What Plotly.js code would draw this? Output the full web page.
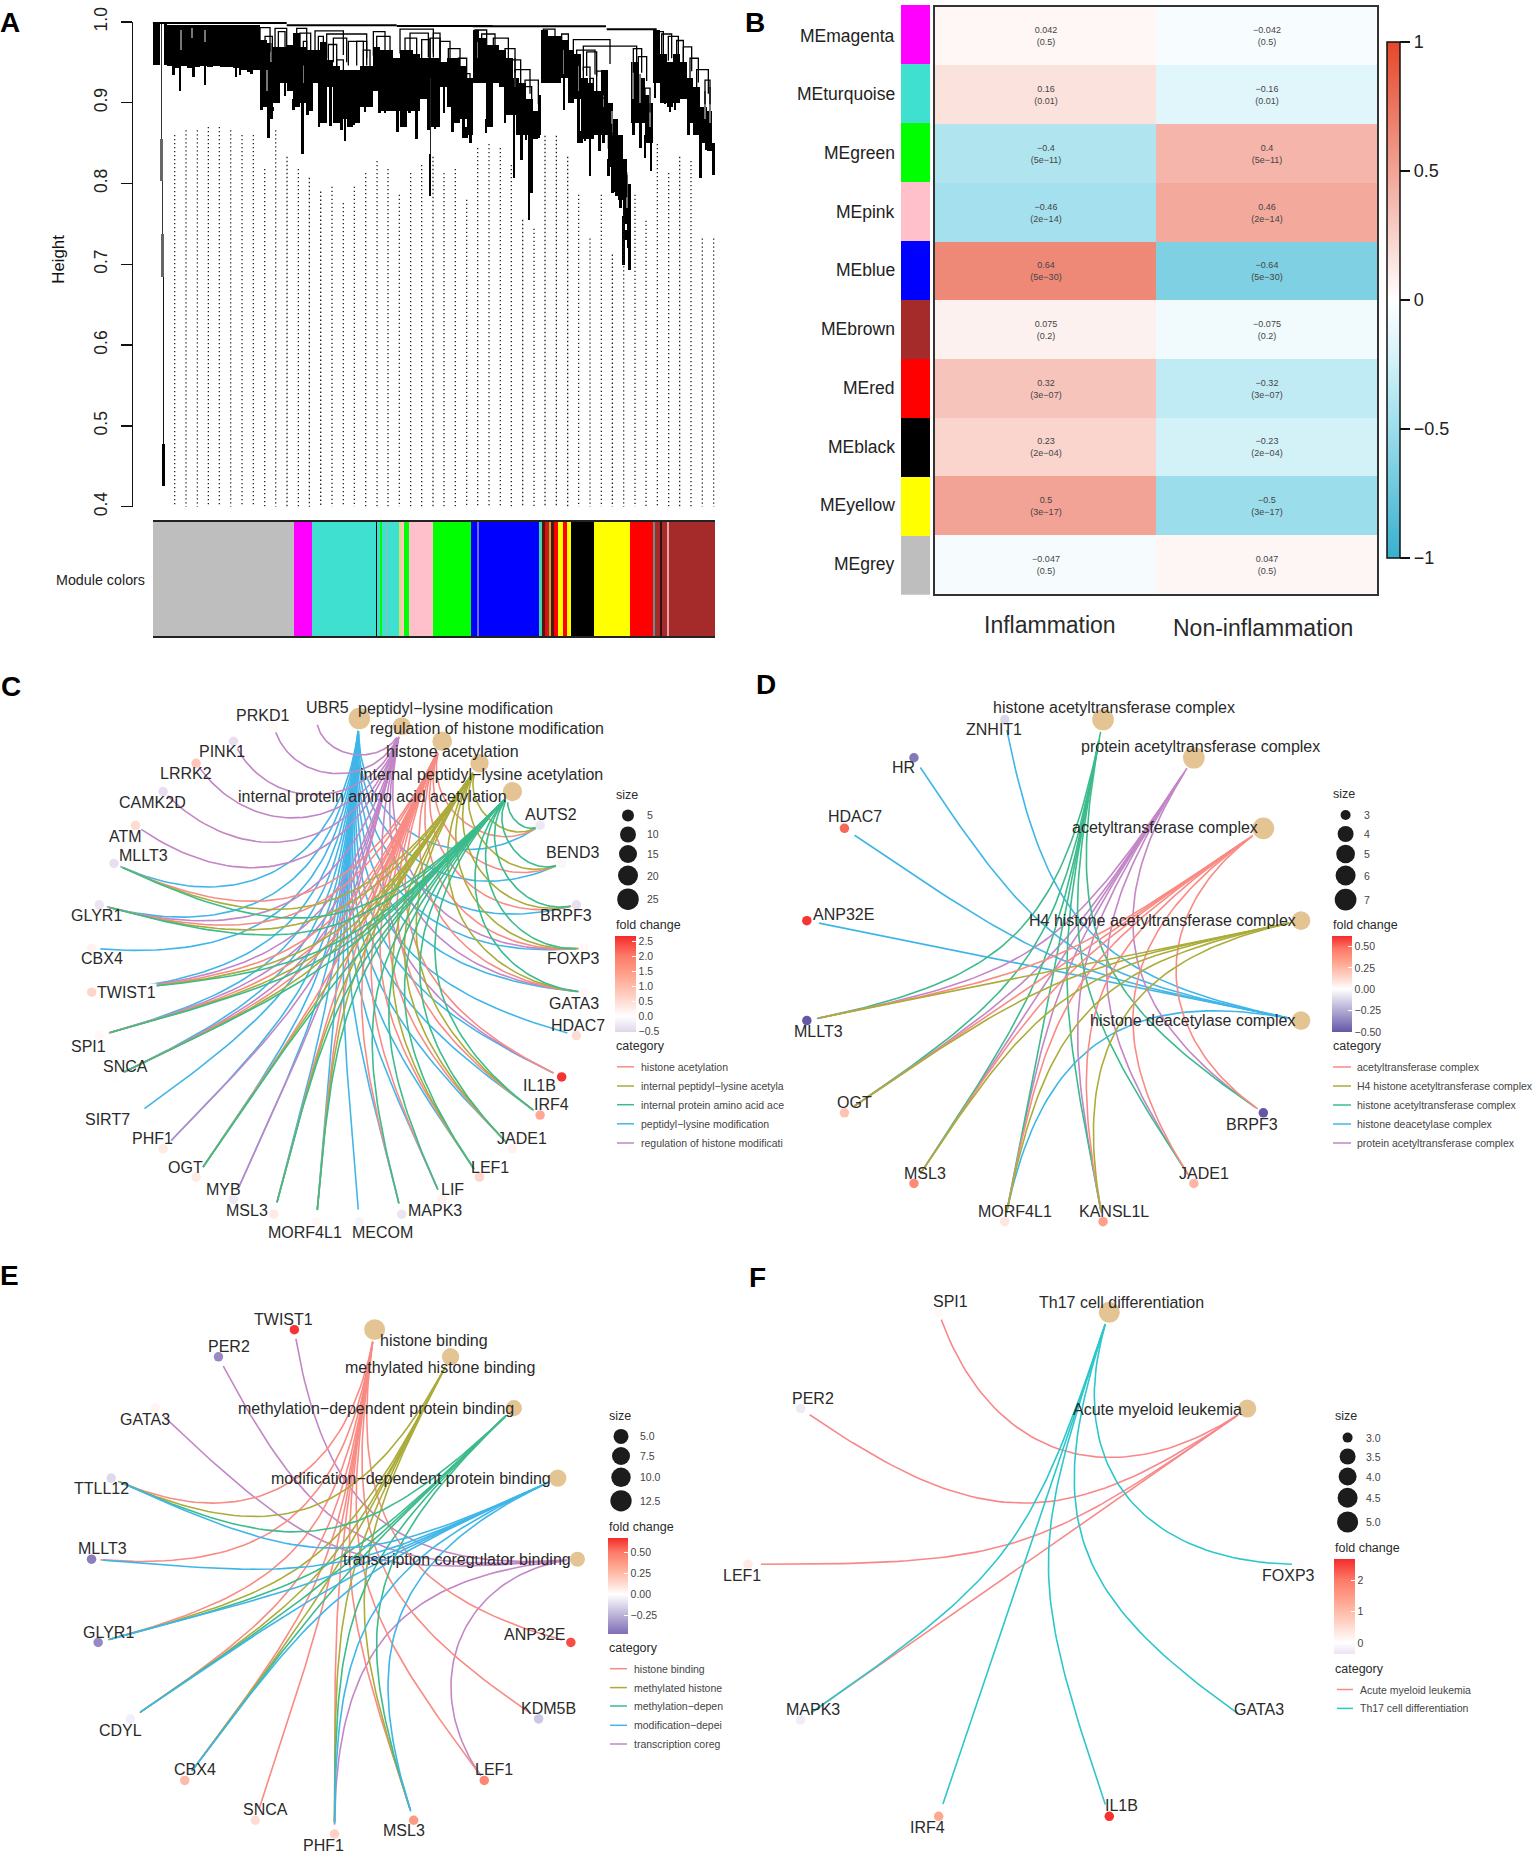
<!DOCTYPE html>
<html><head><meta charset="utf-8">
<script src="https://cdn.plot.ly/plotly-3.0.1.min.js"></script>
<style>html,body{margin:0;padding:0;background:#fff}</style></head>
<body><div id="chart" style="width:1534px;height:1854px"></div>
<script>
const W=1534,H=1854,FONT='"Liberation Sans",Arial,sans-serif';

/* ---------- A: dendrogram values (gene rank on x, height on y) ---------- */
const dendroMassRank=[0,34,42,62,82,102,122,142,162,182,202,222,242,262,282,302,322,342,362,382,402,422,442,462,482,502,522,542,562,582,602,622,642,662,682,702,722,742,762,782,802,822,842,862,882,902,922,942,960,980,1000,1020,1040,1060,1080,1100,1120,1140,1155,1165,1185,1205,1225,1245,1265,1285,1305,1325,1345,1365,1380,1395,1410,1422,1436,1456,1476,1490,1502,1522,1542,1562,1582,1602,1622,1642,1662,1677];
const dendroMassTop=[1.0,0.998,0.996,0.996,0.996,0.996,0.996,0.996,0.996,0.996,0.996,0.996,0.996,0.996,0.996,0.996,0.978,0.974,0.969,0.969,0.972,0.986,0.969,0.965,0.965,0.975,0.953,0.945,0.94,0.94,0.94,0.945,0.945,0.969,0.965,0.965,0.955,0.965,0.965,0.96,0.955,0.955,0.955,0.95,0.955,0.955,0.945,0.93,0.99,0.98,0.972,0.972,0.965,0.955,0.93,0.925,0.905,0.89,0.91,0.99,0.982,0.982,0.978,0.965,0.96,0.93,0.925,0.915,0.94,0.90,0.88,0.86,0.83,0.80,0.95,0.93,0.91,0.90,0.99,0.96,0.95,0.96,0.95,0.93,0.92,0.895,0.89,0.85];
const dendroMassBottom=[0.947,0.947,0.945,0.943,0.945,0.943,0.944,0.945,0.944,0.945,0.944,0.944,0.943,0.941,0.938,0.94,0.895,0.88,0.90,0.925,0.915,0.895,0.90,0.89,0.925,0.875,0.92,0.875,0.88,0.87,0.875,0.895,0.895,0.915,0.89,0.89,0.89,0.87,0.89,0.89,0.905,0.87,0.87,0.92,0.895,0.875,0.88,0.86,0.925,0.925,0.87,0.925,0.92,0.885,0.885,0.86,0.86,0.855,0.86,0.925,0.925,0.925,0.93,0.90,0.905,0.855,0.855,0.86,0.86,0.82,0.79,0.78,0.75,0.72,0.875,0.875,0.85,0.85,0.925,0.90,0.895,0.90,0.905,0.875,0.86,0.85,0.84,0.815];
const dendroStemRank=[62,82,122,157,250,262,297,327,347,359,397,422,450,464,499,534,552,567,577,590,602,637,680,697,712,735,752,770,792,827,847,874,900,917,932,942,954,1000,1057,1084,1094,1107,1120,1129,1137,1147,1157,1234,1277,1287,1297,1312,1322,1340,1352,1367,1379,1392,1404,1412,1422,1430,1442,1464,1477,1495,1507,1537,1552,1567,1607,1644,1660,1670,1682];
const dendroStemBottom=[0.934,0.914,0.932,0.922,0.932,0.934,0.936,0.891,0.856,0.895,0.908,0.891,0.837,0.885,0.870,0.871,0.88,0.866,0.852,0.873,0.873,0.889,0.887,0.887,0.891,0.864,0.887,0.887,0.855,0.866,0.868,0.887,0.864,0.875,0.856,0.856,0.85,0.862,0.875,0.807,0.860,0.829,0.854,0.755,0.788,0.868,0.856,0.891,0.85,0.85,0.852,0.809,0.868,0.84,0.85,0.809,0.788,0.784,0.77,0.699,0.742,0.693,0.86,0.844,0.832,0.815,0.906,0.899,0.889,0.891,0.86,0.807,0.842,0.854,0.81];
const tallStemRank=[26,26,29,30,33,33,832,832];
const tallStemTop=[0.997,0.855,0.803,0.7375,0.684,0.478,0.93,0.837];
const tallStemBottom=[0.855,0.803,0.7375,0.684,0.478,0.4255,0.837,0.784];
const streakRank=[355,342,452,84,157,117,1440,1462,1492,1087,1277,1352,1657,1672,1377,1422,974,1232];
const streakTop=[0.974,0.94,0.965,0.99,0.99,0.993,0.95,0.935,0.90,0.955,0.945,0.925,0.915,0.92,0.89,0.81,0.975,0.965];
const streakBottom=[0.95,0.915,0.925,0.965,0.975,0.98,0.905,0.90,0.87,0.92,0.915,0.895,0.88,0.875,0.86,0.77,0.955,0.935];
const branchFrom=[322,337,367,377,432,442,452,487,497,522,542,587,527,552,612,632,662,672,742,757,772,807,842,832,862,887,917,932,967,987,1022,1057,1077,1087,1117,1112,1172,1227,1262,1292,1272,1302,1292,1312,1332,1337,1367,1377,1387,1407,1442,1457,1477,1507,1527,1547,1572,1592,1612,1632,1657];
const branchTo=[352,359,402,397,462,474,462,572,512,642,582,642,552,572,632,652,697,712,842,792,827,832,862,862,892,922,942,952,1002,1027,1067,1087,1104,1132,1157,1137,1207,1247,1372,1452,1327,1332,1312,1322,1352,1362,1377,1387,1402,1422,1467,1482,1492,1532,1557,1577,1592,1617,1637,1667,1672];
const branchHeight=[0.993,0.982,0.992,0.988,0.992,0.986,0.976,0.989,0.982,0.985,0.980,0.976,0.972,0.953,0.976,0.965,0.988,0.982,0.991,0.980,0.986,0.978,0.986,0.980,0.976,0.967,0.955,0.936,0.990,0.985,0.980,0.967,0.953,0.941,0.928,0.920,0.991,0.985,0.978,0.970,0.965,0.963,0.944,0.930,0.939,0.906,0.873,0.862,0.846,0.813,0.967,0.957,0.918,0.988,0.985,0.982,0.977,0.969,0.955,0.941,0.928];
const trunkFrom=[0,402,732,960,1362];
const trunkTo=[402,732,1020,1360,1512];
const trunkHeight=[0.9985,0.996,0.995,0.9945,0.991];
const guideRank=[66,100,134,167,200,234,268,302,336,369,403,437,470,504,538,572,605,639,673,706,740,774,807,841,874,908,942,975,1009,1043,1076,1110,1144,1177,1211,1245,1278,1312,1346,1379,1413,1447,1480,1514,1548,1581,1615,1649,1683];
const guideTop=[0.860,0.866,0.866,0.870,0.870,0.866,0.860,0.860,0.818,0.866,0.833,0.818,0.807,0.790,0.796,0.776,0.796,0.813,0.828,0.818,0.786,0.813,0.823,0.833,0.813,0.818,0.780,0.844,0.849,0.844,0.823,0.755,0.744,0.859,0.859,0.833,0.786,0.732,0.786,0.712,0.767,0.786,0.754,0.849,0.813,0.833,0.828,0.732,0.732];
const moduleColors=['#BEBEBE','#FF00FF','#40E0D0','#A52A2A','#40E0D0','#000000','#40E0D0','#00FF00','#40E0D0','#9FB8B8','#40E0D0','#C8E860','#FFC0CB','#00FF00','#FFC0CB','#00FF00','#0000FF','#6A6AFF','#0000FF','#40D8A0','#4A1A1A','#FF0000','#A52A2A','#D8A020','#4A1A1A','#FF0000','#FFFF00','#FF0000','#FFFF00','#000000','#FFFF00','#FF0000','#5F9090','#A52A2A','#301010','#A52A2A','#E8A0A0','#A52A2A'];
const moduleGeneCount=[425,54,91,2,98,4,8,6,12,4,36,4,10,16,72,113,19,6,179,8,10,5,7,5,11,10,17,12,10,70,108,68,7,15,5,15,6,139];

/* ---------- B: module-trait correlation ---------- */
const moduleNames=['MEmagenta','MEturquoise','MEgreen','MEpink','MEblue','MEbrown','MEred','MEblack','MEyellow','MEgrey'];
const moduleSwatch=['#FF00FF','#40E0D0','#00FF00','#FFC0CB','#0000FF','#A52A2A','#FF0000','#000000','#FFFF00','#BEBEBE'];
const traits=['Inflammation','Non-inflammation'];
const corInflammation=[0.042,0.16,-0.4,-0.46,0.64,0.075,0.32,0.23,0.5,-0.047];
const corNonInflammation=[-0.042,-0.16,0.4,0.46,-0.64,-0.075,-0.32,-0.23,-0.5,0.047];
const corPValues=['0.5','0.01','5e−11','2e−14','5e−30','0.2','3e−07','2e−04','3e−17','0.5'];

/* ---------- C ---------- */
const cHubs=['peptidyl−lysine modification','regulation of histone modification','histone acetylation','internal peptidyl−lysine acetylation','internal protein amino acid acetylation'];
const cHubSize=[25,15,19,16,18];
const cGenes=['AUTS2','BEND3','BRPF3','FOXP3','GATA3','HDAC7','IL1B','IRF4','JADE1','LEF1','LIF','MAPK3','MECOM','MORF4L1','MSL3','MYB','OGT','PHF1','SIRT7','SNCA','SPI1','TWIST1','CBX4','GLYR1','MLLT3','ATM','CAMK2D','LRRK2','PINK1','PRKD1','UBR5'];
const cFold=[-0.3,-0.1,-0.4,0.1,0.1,0.5,2.6,1.3,0.2,0.6,0.2,-0.35,-0.15,0.1,0.3,-0.3,0.3,0.3,0,0.05,0.1,0.6,0.2,-0.35,-0.4,0.5,-0.4,0.8,-0.4,0.1,0.05];
const cPeptidyl=['AUTS2','BEND3','BRPF3','FOXP3','GATA3','HDAC7','IL1B','IRF4','JADE1','LEF1','LIF','MAPK3','MECOM','MORF4L1','MSL3','MYB','OGT','PHF1','SIRT7','SNCA','SPI1','TWIST1','CBX4','GLYR1','MLLT3'];
const cRegulation=['FOXP3','GATA3','IL1B','MYB','PHF1','SNCA','SPI1','TWIST1','GLYR1','ATM','CAMK2D','LRRK2','PINK1','PRKD1','UBR5'];
const cAcetylation=['AUTS2','BEND3','BRPF3','FOXP3','GATA3','IL1B','IRF4','JADE1','LEF1','LIF','MAPK3','MORF4L1','MSL3','OGT','SNCA','SPI1','TWIST1','GLYR1','MLLT3'];
const cInternalPeptidyl=['AUTS2','BEND3','BRPF3','FOXP3','GATA3','IRF4','JADE1','LEF1','MORF4L1','MSL3','OGT','SNCA','SPI1','TWIST1','GLYR1','MLLT3'];
const cInternalProtein=['AUTS2','BEND3','BRPF3','FOXP3','GATA3','IRF4','JADE1','LEF1','LIF','MAPK3','MORF4L1','MSL3','OGT','SNCA','SPI1','TWIST1','GLYR1','MLLT3'];
const cCategoryLabels=['histone acetylation','internal peptidyl−lysine acetyla','internal protein amino acid ace','peptidyl−lysine modification','regulation of histone modificati'];
const cSizeValues=[5,10,15,20,25];
const cFoldTicks=[-0.5,0,0.5,1,1.5,2,2.5];

/* ---------- D ---------- */
const dHubs=['histone acetyltransferase complex','protein acetyltransferase complex','acetyltransferase complex','H4 histone acetyltransferase complex','histone deacetylase complex'];
const dHubSize=[7,7,7,5,5];
const dGenes=['BRPF3','JADE1','KANSL1L','MORF4L1','MSL3','OGT','MLLT3','ANP32E','HDAC7','HR','ZNHIT1'];
const dFold=[-0.5,0.25,0.33,0.08,0.4,0.2,-0.5,0.6,0.5,-0.4,-0.12];
const dDeacetylase=['MORF4L1','ZNHIT1','HR','HDAC7','ANP32E'];
const dProtein=['BRPF3','JADE1','KANSL1L','MORF4L1','MSL3','OGT','MLLT3'];
const dHistoneAcetyl=['BRPF3','JADE1','KANSL1L','MORF4L1','MSL3','OGT','MLLT3'];
const dAcetyl=['BRPF3','JADE1','KANSL1L','MORF4L1','MSL3','OGT','MLLT3'];
const dH4=['KANSL1L','MORF4L1','MSL3','OGT','MLLT3'];
const dCategoryLabels=['acetyltransferase complex','H4 histone acetyltransferase complex','histone acetyltransferase complex','histone deacetylase complex','protein acetyltransferase complex'];
const dSizeValues=[3,4,5,6,7];
const dFoldTicks=[-0.5,-0.25,0,0.25,0.5];

/* ---------- E ---------- */
const eHubs=['histone binding','methylated histone binding','methylation−dependent protein binding','modification−dependent protein binding','transcription coregulator binding'];
const eHubSize=[12,7,6,7,5];
const eGenes=['ANP32E','KDM5B','LEF1','MSL3','PHF1','SNCA','CBX4','CDYL','GLYR1','MLLT3','TTLL12','GATA3','PER2','TWIST1'];
const eFold=[0.6,-0.18,0.45,0.38,0.17,0.12,0.25,-0.05,-0.38,-0.42,-0.12,0.04,-0.38,0.65];
const eTranscription=['TWIST1','PER2','GATA3','LEF1','PHF1'];
const eHistoneBinding=['TTLL12','MLLT3','GLYR1','CDYL','CBX4','SNCA','PHF1','MSL3','LEF1','KDM5B','ANP32E'];
const eMethylated=['TTLL12','GLYR1','CDYL','CBX4','PHF1','MSL3'];
const eMethylationDep=['TTLL12','GLYR1','CDYL','CBX4','PHF1','MSL3'];
const eModification=['TTLL12','MLLT3','GLYR1','CDYL','CBX4','PHF1','MSL3'];
const eCategoryLabels=['histone binding','methylated histone','methylation−depen','modification−depei','transcription coreg'];
const eSizeValues=[5,7.5,10,12.5];
const eFoldTicks=[-0.25,0,0.25,0.5];

/* ---------- F ---------- */
const fHubs=['Th17 cell differentiation','Acute myeloid leukemia'];
const fHubSize=[5,4];
const fGenes=['FOXP3','GATA3','IL1B','IRF4','MAPK3','LEF1','PER2','SPI1'];
const fFold=[0.05,0,2.6,1.3,-0.25,0.3,-0.3,0.08];
const fLeukemia=['SPI1','PER2','LEF1','MAPK3'];
const fTh17=['FOXP3','GATA3','IL1B','IRF4','MAPK3'];
const fCategoryLabels=['Acute myeloid leukemia','Th17 cell differentiation'];
const fSizeValues=[3,3.5,4,4.5,5];
const fFoldTicks=[0,1,2];

/* ---------- layout tables (page pixels) ---------- */
const RED='#F98B84',OLIVE='#ABAC3A',GREEN='#3CBB8C',BLUE='#40B6E8',PURPLE='#C386C6',F_RED='#F8888A',F_TEAL='#2DC7CB',HUB='#E5C494';
const panelC={ax:5,cx:337.8,cy:970.2,rx:247,ry:252.6,
 lx:[455.4,486.5,452.8,481.6,372.4,551,572.4,566.3,573.5,573.5,577.6,539.8,551.5,522.4,489.8,452.6,435.2,382.7,305.1,247.4,223,185.2,152.6,107.7,125,88.8,126.5,102,96.4,143.9,125,152.6,186.2,222.4,262.8,327],
 ly:[708.2,728.1,751.8,774,796.2,814.6,852.9,915.6,958.9,1003.3,1025.1,1085.6,1104.7,1138.4,1167,1189.3,1210.3,1232.9,1232.9,1210.3,1189.3,1167,1138.4,1119.2,1066.8,1046.5,992.2,958.9,915.6,855.6,836.4,802.7,773.7,751.8,715.9,707.8],
 title:{x:615,size:794.7,fold:924.8,cat:1045.8},
 circX:628,circY:[815.4,834.5,854,875.5,899.2],circPx:[12,16,18,20,21.5],circLab:646,
 bar:{x:615,w:21,top:936.3,bot:1032,min:-0.53,max:2.67,low:'#E0D6EC',lab:641},
 keyX:[617,634],keyLab:640,keyY:[1066.8,1086,1104.7,1123.8,1143],keyCol:[RED,OLIVE,GREEN,BLUE,PURPLE],
 haloLabels:['TWIST1']};
const panelD={ax:6,cx:1053.9,cy:970.6,rx:251.9,ry:256,
 lx:[1114.2,1200.8,1164.6,1162.3,1192.4,1252.4,1203.8,1113.7,1015.4,924.8,854.9,818,843.3,854.9,903.5,993.7],
 ly:[707.8,746.5,827.6,920.2,1020.9,1124.2,1173.2,1211.9,1211.9,1173.2,1102.4,1031.6,914.9,816.9,767.9,729.7],
 title:{x:1332.4,size:794,fold:925,cat:1045.8},
 circX:1345.6,circY:[815,834,854,875.5,899.6],circPx:[10,16,18.7,20,21.7],circLab:1363,
 bar:{x:1332.4,w:20.3,top:936.3,bot:1032,min:-0.5,max:0.617,low:'#6457A6',lab:1357.7},
 keyX:[1333,1351],keyLab:1356,keyY:[1067,1086,1105,1124,1143],keyCol:[RED,OLIVE,GREEN,BLUE,PURPLE],haloLabels:[]};
const panelE={ax:7,cx:334.5,cy:1580.1,rx:243.8,ry:253.9,
 lx:[434,440,376.4,411,457,534.7,548.7,493.5,403.8,323.3,265.6,194.9,120.2,108.1,102.3,101.3,144.9,229.3,283.6],
 ly:[1340.5,1367.9,1408.7,1478.4,1559.3,1634.4,1708.4,1769.6,1830.9,1845.1,1809.7,1769.6,1730,1632.1,1548.9,1488.8,1419.1,1346.3,1319.7],
 title:{x:608.3,size:1416,fold:1527,cat:1648},
 circX:621,circY:[1436.4,1456,1477.3,1500.8],circPx:[15,18,19.4,21.3],circLab:639,
 bar:{x:608,w:20,top:1538,bot:1633.7,min:-0.47,max:0.67,low:'#7E6DB5',lab:634.5},
 keyX:[610,627],keyLab:632.5,keyY:[1668.7,1687.6,1706,1725.3,1744],keyCol:[RED,OLIVE,GREEN,BLUE,PURPLE],haloLabels:[]};
const panelF={ax:8,cx:1024,cy:1564.3,rx:276,ry:265,
 lx:[1121,1157.7,1288.9,1259,1121.3,927.3,813.4,741.6,812.9,950.1],
 ly:[1302,1409.1,1575.1,1709.2,1805.5,1827.4,1709.2,1575.9,1398.3,1301.6],
 title:{x:1334.4,size:1416.4,fold:1548,cat:1668.7},
 circX:1347.6,circY:[1437.6,1456.5,1476.5,1497.7,1522],circPx:[10,16,18,20,21],circLab:1365,
 bar:{x:1334.4,w:20.6,top:1559.3,bot:1654.5,min:-0.365,max:2.66,low:'#ECE3F3',lab:1360},
 keyX:[1337,1353],keyLab:1358.5,keyY:[1689.5,1708.4],keyCol:[F_RED,F_TEAL],haloLabels:[]};

const traces=[],annotations=[],shapes=[];
const layout={width:W,height:H,margin:{l:0,r:0,t:0,b:0,pad:0},paper_bgcolor:'#fff',plot_bgcolor:'rgba(0,0,0,0)',
 showlegend:false,hovermode:false,barmode:'overlay',bargap:0,font:{family:FONT,color:'#222'},annotations,shapes};
const fx=p=>p/W, fy=p=>1-p/H;
function note(text,x,y,size,o={}){annotations.push(Object.assign({text,x:fx(x),y:fy(y),xref:'paper',yref:'paper',showarrow:false,
 xanchor:'center',yanchor:'middle',borderpad:0,font:{family:FONT,size,color:o.color||'#2a2a2a'}},o.extra||{}));}
function hiddenAxis(range,d0,d1){return {domain:[d0,d1],range,visible:false,fixedrange:true};}

/* ----- panel A ----- */
layout.xaxis={domain:[fx(152.7),fx(715)],range:[0,1687],visible:false,fixedrange:true};
layout.yaxis={domain:[fy(506.7),fy(21.9)],range:[0.4,1.0],anchor:'free',position:fx(131.8),showline:true,linecolor:'#111',linewidth:1.5,
 ticks:'outside',ticklen:10.5,tickwidth:1.5,tickcolor:'#111',tickvals:[0.4,0.5,0.6,0.7,0.8,0.9,1.0],ticktext:['0.4','0.5','0.6','0.7','0.8','0.9','1.0'],
 tickangle:-90,tickfont:{family:FONT,size:17.5,color:'#222'},ticklabelstandoff:7,showgrid:false,zeroline:false,fixedrange:true};
const gx=[],gy=[];guideRank.forEach((r,i)=>{gx.push(r,r,null);gy.push(guideTop[i],0.3875,null);});
traces.push({type:'scatter',mode:'lines',x:gx,y:gy,xaxis:'x',yaxis:'y',cliponaxis:false,line:{color:'#222',width:1.3,dash:'1.3px,2.7px'}});
const massW=dendroMassRank.map((r,i)=>Math.min((dendroMassRank[i+1]||1687)-r,22));
traces.push({type:'bar',x:dendroMassRank.map((r,i)=>r+massW[i]/2),width:massW,base:dendroMassBottom,y:dendroMassTop.map((t,i)=>t-dendroMassBottom[i]),
 xaxis:'x',yaxis:'y',cliponaxis:false,marker:{color:'#000',line:{width:0}}});
const stemTop=dendroStemRank.map(r=>{let k=0;dendroMassRank.forEach((m,i)=>{if(m<=r)k=i;});return dendroMassBottom[k]+0.01;});
traces.push({type:'bar',x:dendroStemRank,width:dendroStemRank.map(()=>8),base:dendroStemBottom,y:stemTop.map((t,i)=>t-dendroStemBottom[i]),
 xaxis:'x',yaxis:'y',cliponaxis:false,marker:{color:'#000',line:{width:0}}});
traces.push({type:'bar',x:streakRank,width:streakRank.map(()=>5),base:streakBottom,y:streakTop.map((t,i)=>t-streakBottom[i]),
 xaxis:'x',yaxis:'y',cliponaxis:false,marker:{color:'#777',line:{width:0}}});
const tallW=[2.5,10,3,8,3,9,3,8],tallC=['#333','#666','#333','#666','#111','#000','#222','#000'];
traces.push({type:'bar',x:tallStemRank,width:tallW,base:tallStemBottom,y:tallStemTop.map((t,i)=>t-tallStemBottom[i]),
 xaxis:'x',yaxis:'y',cliponaxis:false,marker:{color:tallC,line:{width:0}}});
const bx=[],by=[];branchFrom.forEach((a,i)=>{const h=branchHeight[i];bx.push(a,a,branchTo[i],branchTo[i],null);by.push(h-0.03,h,h,h-0.03,null);});
traces.push({type:'scatter',mode:'lines',x:bx,y:by,xaxis:'x',yaxis:'y',cliponaxis:false,line:{color:'#000',width:1.3}});
const tx=[],ty=[];trunkFrom.forEach((a,i)=>{tx.push(a,trunkTo[i],null);ty.push(trunkHeight[i],trunkHeight[i],null);});
traces.push({type:'scatter',mode:'lines',x:tx,y:ty,xaxis:'x',yaxis:'y',cliponaxis:false,line:{color:'#000',width:2}});
note('Height',59,259.7,16.8,{extra:{textangle:-90},color:'#111'});
note('Module colors',100,580,14.3,{color:'#222'});
/* module colour strip */
layout.xaxis2={domain:[fx(152.7),fx(715)],range:[0,1687],anchor:'y2',showline:true,mirror:true,linecolor:'#222',linewidth:1.5,ticks:'',showticklabels:false,showgrid:false,zeroline:false,fixedrange:true};
layout.yaxis2={domain:[fy(636.4),fy(521.9)],range:[0,1],visible:false,fixedrange:true};
let acc=0;const modC=moduleGeneCount.map(n=>{const c=acc+n/2;acc+=n;return c;});
traces.push({type:'bar',x:modC,width:moduleGeneCount,y:moduleGeneCount.map(()=>1),xaxis:'x2',yaxis:'y2',marker:{color:moduleColors,line:{width:0}}});

/* ----- panel B ----- */
layout.xaxis3={domain:[fx(935),fx(1377)],type:'category',range:[-0.5,1.5],anchor:'y3',showline:true,mirror:true,linecolor:'#333',linewidth:1.6,ticks:'',
 showticklabels:false,showgrid:false,zeroline:false,fixedrange:true};
layout.yaxis3={domain:[fy(593.9),fy(6.7)],type:'category',range:[9.5,-0.5],anchor:'x3',showline:true,mirror:true,linecolor:'#333',linewidth:1.6,showticklabels:false,ticks:'',showgrid:false,zeroline:false,fixedrange:true};
const fmt=v=>String(v).replace('-','−');
traces.push({type:'heatmap',x:traits,y:moduleNames,z:moduleNames.map((m,i)=>[corInflammation[i],corNonInflammation[i]]),
 text:moduleNames.map((m,i)=>[fmt(corInflammation[i])+'<br>('+corPValues[i]+')',fmt(corNonInflammation[i])+'<br>('+corPValues[i]+')']),
 texttemplate:'%{text}',textfont:{family:FONT,size:9,color:'#444'},xaxis:'x3',yaxis:'y3',zmin:-1,zmax:1,
 colorscale:[[0,'#38B0CE'],[0.25,'#9CDDEB'],[0.375,'#CFF1F7'],[0.5,'#FFFFFF'],[1,'#E5472A']],
 colorbar:{x:fx(1387.3),xanchor:'left',xpad:0,ypad:0,y:fy(41.8),yanchor:'top',lenmode:'pixels',len:516.2,thicknessmode:'pixels',thickness:13.4,
  outlinewidth:1.5,outlinecolor:'#111',ticks:'outside',ticklen:10,tickwidth:1.5,tickcolor:'#111',tickvals:[-1,-0.5,0,0.5,1],ticktext:['−1','−0.5','0','0.5','1'],
  tickfont:{family:FONT,size:18,color:'#222'}}});
note(traits[0],1050,625.5,23);
note(traits[1],1263,627.5,23);
layout.xaxis4={domain:[fx(900.5),fx(930)],range:[0,1],anchor:'y4',visible:false,fixedrange:true};
layout.yaxis4={domain:[fy(594.7),fy(4.6)],type:'category',range:[9.5,-0.5],anchor:'x4',visible:false,fixedrange:true};
traces.push({type:'bar',orientation:'h',y:moduleNames,x:moduleNames.map(()=>1),width:moduleNames.map(()=>1),xaxis:'x4',yaxis:'y4',marker:{color:moduleSwatch,line:{width:0}}});
moduleNames.forEach((m,i)=>note(m,896.4,6.7+58.72*(i+0.5)-0.5,17.5,{color:'#222',extra:{xanchor:'right'}}));

/* ----- overlay for size keys ----- */
layout.xaxis9={domain:[0,1],range:[0,W],anchor:'y9',visible:false,fixedrange:true};
layout.yaxis9={domain:[0,1],range:[H,0],anchor:'x9',visible:false,fixedrange:true};

function interp(v,xs,ys){if(v<=xs[0])return ys[0];for(let i=1;i<xs.length;i++){if(v<=xs[i])return ys[i-1]+(ys[i]-ys[i-1])*(v-xs[i-1])/(xs[i]-xs[i-1]);}return ys[ys.length-1];}
function foldScale(b){const f=(0-b.min)/(b.max-b.min),p=t=>f+(1-f)*t;
 return [[0,b.low],[f,'#FFFFFF'],[p(0.25),'#FFD0C3'],[p(0.5),'#FFA58F'],[p(0.75),'#FC7A68'],[1,'#F52B2B']];}

function network(P,hubs,hubSizes,genes,fold,edgeSets,sizeVals,sizeText,foldTicks,foldText,catLabels){
 const xa='x'+P.ax,ya='y'+P.ax;
 layout['xaxis'+P.ax]=Object.assign(hiddenAxis([-1,1],fx(P.cx-P.rx),fx(P.cx+P.rx)),{anchor:ya});
 layout['yaxis'+P.ax]=Object.assign(hiddenAxis([-1,1],fy(P.cy+P.ry),fy(P.cy-P.ry)),{anchor:xa});
 const names=hubs.concat(genes),n=names.length;
 const pos={},ang={};names.forEach((nm,i)=>{const a=(i+0.5)*2*Math.PI/n;ang[nm]=a;pos[nm]=[Math.sin(a),Math.cos(a)];});
 const hubPx=hubSizes.map(s=>interp(s,sizeVals,P.circPx));
 edgeSets.forEach(set=>{
  const ex=[],ey=[],hr=hubPx[set.hub]/2+1.5,hn=hubs[set.hub],[hx,hy]=pos[hn];
  set.genes.forEach(g=>{
   const [gx0,gy0]=pos[g];
   /* arc: both handles run radially inward by half the chord */
   const inward=1-Math.hypot(gx0-hx,gy0-hy)/2;
   const c1x=gx0*inward,c1y=gy0*inward,c2x=hx*inward,c2y=hy*inward;
   for(let k=0;k<=60;k++){const t=k/60,u=1-t,a=u*u*u,b=3*u*u*t,c=3*u*t*t,d=t*t*t;
    const x=a*gx0+b*c1x+c*c2x+d*hx,y=a*gy0+b*c1y+c*c2y+d*hy;
    const dh=Math.hypot((x-hx)*P.rx,(y-hy)*P.ry),dg=Math.hypot((x-gx0)*P.rx,(y-gy0)*P.ry);
    if(dh<hr||dg<5)continue;ex.push(x);ey.push(y);}
   ex.push(null);ey.push(null);
  });
  traces.push({type:'scatter',mode:'lines',x:ex,y:ey,xaxis:xa,yaxis:ya,cliponaxis:false,line:{color:set.color,width:1.6,shape:'linear'}});
 });
 traces.push({type:'scatter',mode:'markers',x:hubs.map(h=>pos[h][0]),y:hubs.map(h=>pos[h][1]),xaxis:xa,yaxis:ya,cliponaxis:false,
  marker:{color:HUB,size:hubPx,opacity:1,line:{width:0}}});
 traces.push({type:'scatter',mode:'markers',x:genes.map(g=>pos[g][0]),y:genes.map(g=>pos[g][1]),xaxis:xa,yaxis:ya,cliponaxis:false,
  marker:{color:fold,cmin:P.bar.min,cmax:P.bar.max,colorscale:foldScale(P.bar),size:9.5,opacity:1,line:{width:0},
   colorbar:{x:fx(P.bar.x),xanchor:'left',xpad:0,ypad:0,y:fy(P.bar.top),yanchor:'top',lenmode:'pixels',len:P.bar.bot-P.bar.top,thicknessmode:'pixels',thickness:P.bar.w,
    outlinewidth:0,ticks:'inside',ticklen:4,tickwidth:1,tickcolor:'#fff',tickvals:foldTicks,ticktext:foldText,tickfont:{family:FONT,size:10.5,color:'#444'}}}});
 names.forEach((nm,i)=>note(nm,P.lx[i],P.ly[i],16,{extra:P.haloLabels.includes(nm)?{bgcolor:'#fff'}:{}}));
 note('size',P.title.x,P.title.size,12.5,{extra:{xanchor:'left'}});
 note('fold change',P.title.x,P.title.fold,12.5,{extra:{xanchor:'left'}});
 note('category',P.title.x,P.title.cat,12.5,{extra:{xanchor:'left'}});
 traces.push({type:'scatter',mode:'markers',x:P.circY.map(()=>P.circX),y:P.circY,xaxis:'x9',yaxis:'y9',cliponaxis:false,marker:{color:'#1c1c1c',size:P.circPx,opacity:1,line:{width:0}}});
 sizeText.forEach((t,i)=>note(t,P.circLab,P.circY[i],10.5,{color:'#444',extra:{xanchor:'left'}}));
 catLabels.forEach((t,i)=>{
  shapes.push({type:'line',xref:'paper',yref:'paper',x0:fx(P.keyX[0]),x1:fx(P.keyX[1]),y0:fy(P.keyY[i]),y1:fy(P.keyY[i]),line:{color:P.keyCol[i],width:1.5}});
  note(t,P.keyLab,P.keyY[i],10.5,{color:'#444',extra:{xanchor:'left'}});
 });
}
network(panelC,cHubs,cHubSize,cGenes,cFold,
 [{hub:0,genes:cPeptidyl,color:BLUE},{hub:1,genes:cRegulation,color:PURPLE},{hub:2,genes:cAcetylation,color:RED},{hub:3,genes:cInternalPeptidyl,color:OLIVE},{hub:4,genes:cInternalProtein,color:GREEN}],
 cSizeValues,cSizeValues.map(String),cFoldTicks,['−0.5','0.0','0.5','1.0','1.5','2.0','2.5'],cCategoryLabels);
network(panelD,dHubs,dHubSize,dGenes,dFold,
 [{hub:4,genes:dDeacetylase,color:BLUE},{hub:1,genes:dProtein,color:PURPLE},{hub:0,genes:dHistoneAcetyl,color:GREEN},{hub:2,genes:dAcetyl,color:RED},{hub:3,genes:dH4,color:OLIVE}],
 dSizeValues,dSizeValues.map(String),dFoldTicks,['−0.50','−0.25','0.00','0.25','0.50'],dCategoryLabels);
network(panelE,eHubs,eHubSize,eGenes,eFold,
 [{hub:4,genes:eTranscription,color:PURPLE},{hub:0,genes:eHistoneBinding,color:RED},{hub:1,genes:eMethylated,color:OLIVE},{hub:2,genes:eMethylationDep,color:GREEN},{hub:3,genes:eModification,color:BLUE}],
 eSizeValues,eSizeValues.map(v=>v.toFixed(1)),eFoldTicks,['−0.25','0.00','0.25','0.50'],eCategoryLabels);
network(panelF,fHubs,fHubSize,fGenes,fFold,
 [{hub:1,genes:fLeukemia,color:F_RED},{hub:0,genes:fTh17,color:F_TEAL}],
 fSizeValues,fSizeValues.map(v=>v.toFixed(1)),fFoldTicks,['0','1','2'],fCategoryLabels);

/* panel letters */
[['A',10,23],['B',754.5,23],['C',10.5,686],['D',765.5,685],['E',9.5,1275],['F',757,1277]].forEach(l=>
 annotations.push({text:'<b>'+l[0]+'</b>',x:fx(l[1]),y:fy(l[2]),xref:'paper',yref:'paper',showarrow:false,xanchor:'center',yanchor:'middle',font:{family:FONT,size:28,color:'#000'}}));

Plotly.newPlot('chart',traces,layout,{staticPlot:true,displayModeBar:false});
</script></body></html>
